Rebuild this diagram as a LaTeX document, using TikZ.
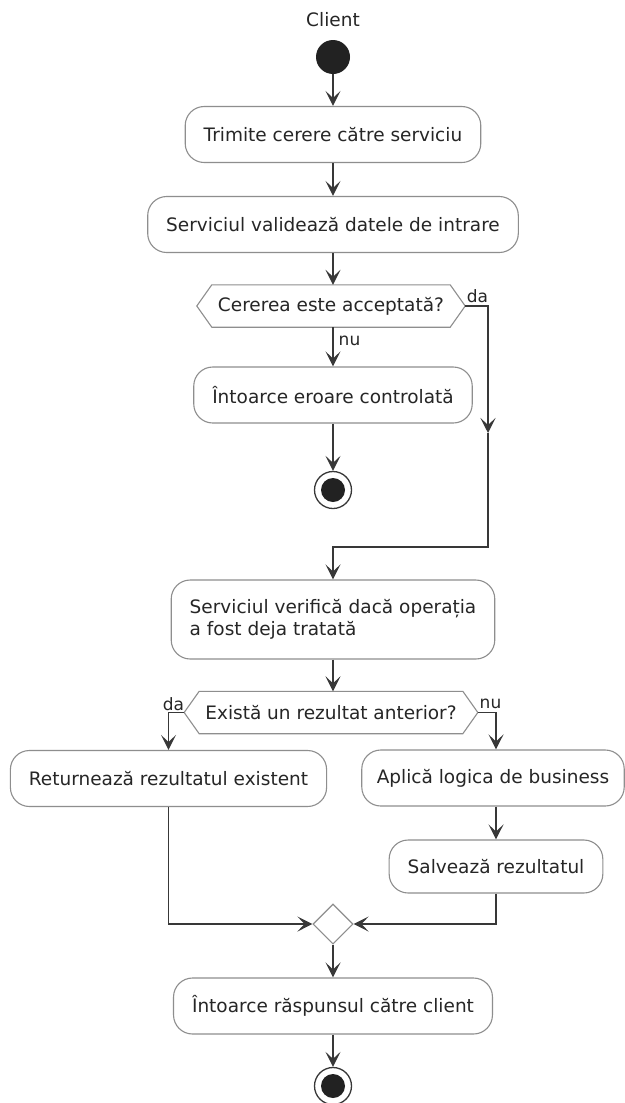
\documentclass[tikz,border=0pt]{standalone}
\usepackage{fontspec}
\setmainfont{DejaVu Sans}
\usetikzlibrary{arrows.meta,shapes.geometric}
\definecolor{edgecol}{HTML}{383838}
\definecolor{boxline}{HTML}{8E8E8E}
\definecolor{dotfill}{HTML}{222222}
% hexagonal decision outline drawn around a borderless node
\newcommand\hexoutline[1]{%
  \draw[hexline] (#1.west) -- ([xshift=15pt]#1.north west) -- ([xshift=-15pt]#1.north east)
    -- (#1.east) -- ([xshift=-15pt]#1.south east) -- ([xshift=15pt]#1.south west) -- cycle;}
\begin{document}
\begin{tikzpicture}[x=1pt,y=-1pt,
  every node/.style={font=\fontsize{18.5}{22}\selectfont, text=black!85},
  act/.style={draw=boxline, line width=1.1pt, fill=white, rounded corners=19pt,
    inner xsep=18.5pt, inner ysep=0pt, minimum height=56pt, align=center},
  decision/.style={inner xsep=21pt, inner ysep=0pt, minimum height=42pt},
  hexline/.style={draw=boxline, line width=1.1pt, line join=miter},
  lbl/.style={font=\fontsize{17}{20}\selectfont, inner sep=0pt},
  flow/.style={draw=edgecol, line width=1.5pt,
    -{Stealth[length=15pt,width=15pt,inset=7pt]}},
  startdot/.style={circle, fill=dotfill, minimum size=34pt, inner sep=0pt},
  enddot/.style={circle, draw=edgecol, line width=1.3pt, fill=white, minimum size=37pt, inner sep=0pt},
  merge/.style={diamond, draw=boxline, line width=1.1pt, fill=white, minimum width=40pt,
    minimum height=40pt, inner sep=0pt}
]
\useasboundingbox[fill=white] (0,0) rectangle (624,1103);

% swimlane title and start
\node (client) at (333,20) {Client};
\node[startdot] (start) at (333,57) {};

% main column
\node[act] (b1) at (333,134.5) {Trimite cerere către serviciu};
\node[act] (b2) at (333,224.5) {Serviciul validează datele de intrare};
\node[decision] (h1) at (331,306) {Cererea este acceptată?};
\hexoutline{h1}
\node[act] (b4) at (333,395) {Întoarce eroare controlată};
\node[enddot] (e1) at (333,490) {};
\fill[dotfill] (e1) circle[radius=12pt];

\coordinate (daMid) at (488,433);
\coordinate (daJoin) at (333,547);

\node[act, align=left, minimum height=79pt] (b3) at (333,619.5)
  {Serviciul verifică dacă operația\\a fost deja tratată};
\node[decision] (h2) at (331,712.5) {Există un rezultat anterior?};
\hexoutline{h2}

% branches
\node[act] (bL) at (168.5,778.5) {Returnează rezultatul existent};
\node[act, inner xsep=15pt] (bR) at (493,778) {Aplică logica de business};
\node[act, minimum height=53pt] (bS) at (496,866.5) {Salvează rezultatul};
\node[merge] (m) at (333,924) {};

\node[act] (bF) at (333,1006) {Întoarce răspunsul către client};
\node[enddot] (e2) at (333,1086) {};
\fill[dotfill] (e2) circle[radius=12pt];

% connectors
\draw[flow] (start) -- (b1);
\draw[flow] (b1) -- (b2);
\draw[flow] (b2) -- (b2 |- h1.north);
\draw[flow] (h1.south -| b4) -- (b4);
\draw[flow] (b4) -- (e1);
\draw[flow] (h1.east) -| (daMid);
\draw[flow] (daMid) |- (daJoin) -- (b3.north);
\draw[flow] (b3.south) -- (b3.south |- h2.north);
\draw[flow] (h2.west) -| (bL.north);
\draw[flow] (h2.east) -| (bS |- bR.north);
\draw[flow] (bS |- bR.south) -- (bS);
\draw[flow] (bL.south) |- (m.west);
\draw[flow] (bS.south) |- (m.east);
\draw[flow] (m) -- (bF);
\draw[flow] (bF) -- (e2);

% branch labels
\node[lbl] (l1) at (477.5,296) {da};
\node[lbl] (l2) at (349.5,341) {nu};
\node[lbl] (l3) at (173.5,704) {da};
\node[lbl] (l4) at (490.5,704) {nu};
\end{tikzpicture}
\end{document}
